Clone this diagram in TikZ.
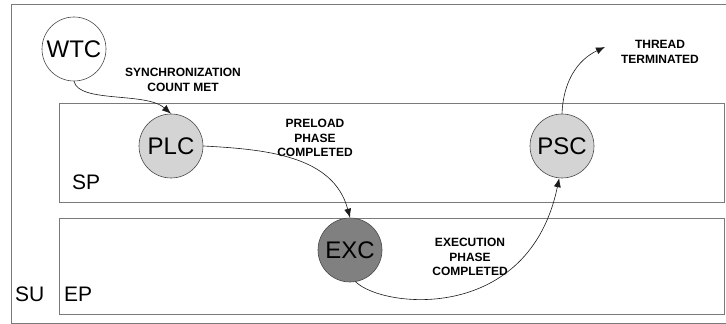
\documentclass[tikz,border=0pt]{standalone}
\usepackage{fontspec}
\setmainfont{Liberation Sans}
\usepackage{xcolor}
\usetikzlibrary{arrows.meta,positioning,calc}
\definecolor{frame}{HTML}{7A7A7A}
\definecolor{ink}{HTML}{1A1A1A}
\definecolor{lightstate}{HTML}{D4D4D4}
\definecolor{darkstate}{HTML}{808080}

\begin{document}
\begin{tikzpicture}[x=1pt,y=1pt,
  state/.style={circle,draw=ink!80,line width=0.6pt,minimum size=64pt,inner sep=0pt,
    font=\fontsize{24}{24}\selectfont},
  lane/.style={rectangle,draw=frame,line width=0.8pt,inner sep=0pt},
  lanelbl/.style={anchor=base west,inner sep=0pt,font=\fontsize{21}{21}\selectfont},
  evt/.style={align=center,inner sep=0pt,font=\fontsize{12}{14.5}\selectfont\bfseries},
  arr/.style={-{Latex[length=9pt,width=7pt]},line width=0.6pt,ink}]

\useasboundingbox (0,0) rectangle (726,324);
\draw[frame,line width=0.8pt] (11,1) rectangle (740,320);

\node[lane,minimum width=665pt,minimum height=99pt] (sp) at (391.5,171.5) {};
\node[lane,minimum width=665pt,minimum height=96pt] (ep) at (391.5,58) {};
\node[lanelbl] (splbl) at (72,134) {SP};
\node[lanelbl] (eplbl) at (64,22) {EP};
\node[lanelbl] (sulbl) at (15,22) {SU};

\node[state,fill=white] (wtc) at (74,275) {WTC};
\node[state,fill=lightstate] (plc) at (171,178) {PLC};
\node[state,fill=lightstate] (psc) at (562,178) {PSC};
\node[state,fill=darkstate] (exc) at (350,74) {EXC};
\coordinate (term) at (605,277);

\node[evt] (sync) at (183,244) {SYNCHRONIZATION\\COUNT MET};
\node[evt] (pre) at (315,186) {PRELOAD\\PHASE\\COMPLETED};
\node[evt] (execd) at (470,67) {EXECUTION\\PHASE\\COMPLETED};
\node[evt] (thr) at (660,272) {THREAD\\TERMINATED};

\draw[arr] (wtc.south) .. controls +(5,-22) and +(-25,22) .. (plc.north);
\draw[arr] (plc.east) to[out=-3,in=105] (exc.north);
\draw[arr] (exc.-80) .. controls +(28,-27) and +(-30,-145) .. (psc.-95);
\draw[arr] (psc.north) to[out=88,in=205] (term);
\end{tikzpicture}
\end{document}
